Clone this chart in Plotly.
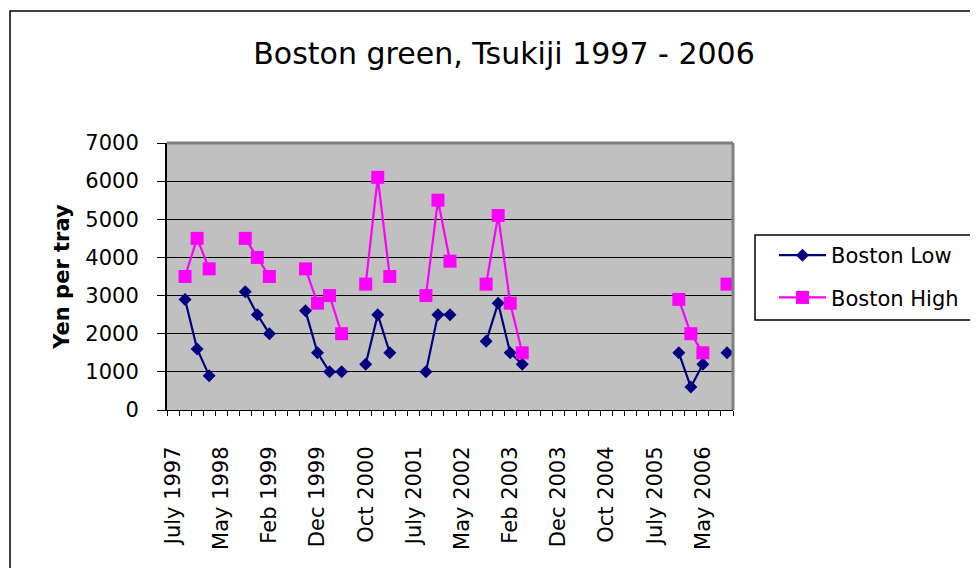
import plotly.graph_objects as go

# ---- data ----
categories = [
    "July 1997", "Sep 1997", "Dec 1997", "Feb 1998",
    "May 1998", "Jul 1998", "Sep 1998", "Nov 1998",
    "Feb 1999", "Apr 1999", "Jul 1999", "Sep 1999",
    "Dec 1999", "Feb 2000", "May 2000", "Jul 2000",
    "Oct 2000", "Dec 2000", "Mar 2001", "May 2001",
    "July 2001", "Oct 2001", "Dec 2001", "Mar 2002",
    "May 2002", "Aug 2002", "Oct 2002", "Dec 2002",
    "Feb 2003", "May 2003", "Jul 2003", "Oct 2003",
    "Dec 2003", "Mar 2004", "May 2004", "Aug 2004",
    "Oct 2004", "Dec 2004", "Mar 2005", "May 2005",
    "July 2005", "Oct 2005", "Dec 2005", "Mar 2006",
    "May 2006", "Jul 2006", "Oct 2006",
]
tick_labels = ["July 1997", "May 1998", "Feb 1999", "Dec 1999", "Oct 2000",
               "July 2001", "May 2002", "Feb 2003", "Dec 2003", "Oct 2004",
               "July 2005", "May 2006"]

N = None
boston_low = [
    N, 2900, 1600, 900,
    N, N, 3100, 2500,
    2000, N, N, 2600,
    1500, 1000, 1000, N,
    1200, 2500, 1500, N,
    N, 1000, 2500, 2500,
    N, N, 1800, 2800,
    1500, 1200, N, N,
    N, N, N, N,
    N, N, N, N,
    N, N, 1500, 600,
    1200, N, 1500,
]
boston_high = [
    N, 3500, 4500, 3700,
    N, N, 4500, 4000,
    3500, N, N, 3700,
    2800, 3000, 2000, N,
    3300, 6100, 3500, N,
    N, 3000, 5500, 3900,
    N, N, 3300, 5100,
    2800, 1500, N, N,
    N, N, N, N,
    N, N, N, N,
    N, N, 2900, 2000,
    1500, N, 3300,
]
y_ticks = [0, 1000, 2000, 3000, 4000, 5000, 6000, 7000]

# ---- layout geometry (screen pixels; page body has an 8px margin) ----
OFF = 8
SW, SH = 978, 568
W, H = SW - OFF, SH - OFF
PL, PT, PR, PB = 167, 143, 733, 410


def px(x):
    return (x - PL) / (PR - PL)


def py(y):
    return (PB - y) / (PB - PT)


FONT = "DejaVu Sans, Liberation Sans, Arial, sans-serif"

fig = go.Figure()
fig.add_trace(go.Scatter(
    x=categories, y=boston_low, name="Boston Low", mode="lines+markers",
    connectgaps=False, legendgroup="low",
    line=dict(color="#000080", width=2.2),
    marker=dict(symbol="diamond", size=10, color="#000080"),
))
fig.add_trace(go.Scatter(
    x=categories, y=boston_high, name="Boston High", mode="lines+markers",
    connectgaps=False, legendgroup="high",
    line=dict(color="#FF00FF", width=2.2),
    marker=dict(symbol="square", size=13, color="#FF00FF"),
))

fig.update_layout(
    width=W, height=H,
    margin=dict(l=PL - OFF, t=PT - OFF, r=SW - PR, b=SH - PB, pad=0),
    paper_bgcolor="white",
    plot_bgcolor="#C0C0C0",
    font=dict(family=FONT, size=21, color="black"),
    title=dict(text="Boston green, Tsukiji 1997 - 2006",
               x=(504 - OFF) / W, xref="container", xanchor="center",
               y=1 - (53 - OFF) / H, yref="container", yanchor="middle",
               font=dict(family=FONT, size=30, color="black")),
    showlegend=True,
    legend=dict(x=px(774), xanchor="left", y=py(235), yanchor="top",
                bgcolor="rgba(0,0,0,0)", borderwidth=0,
                traceorder="grouped", tracegroupgap=12, itemwidth=47,
                font=dict(family=FONT, size=21, color="black")),
    xaxis=dict(
        type="category", categoryorder="array", categoryarray=categories,
        range=[-0.5, len(categories) - 0.5],
        tickmode="array", tickvals=categories,
        ticktext=[c if c in tick_labels else "" for c in categories],
        tickson="boundaries", ticks="outside", ticklen=5, tickwidth=1,
        tickcolor="black", tickangle=-90, ticklabelstandoff=27,
        showline=True, linecolor="black", linewidth=1,
        showgrid=False, zeroline=False,
        tickfont=dict(family=FONT, size=21),
    ),
    yaxis=dict(
        range=[0, 7000], tickmode="array", tickvals=y_ticks,
        ticks="outside", ticklen=8, tickwidth=1, tickcolor="black",
        ticklabelstandoff=14,
        showline=True, linecolor="black", linewidth=2,
        showgrid=True, gridcolor="black", gridwidth=1,
        zeroline=False,
        tickfont=dict(family=FONT, size=21),
        title=dict(text="<b>Yen per tray</b>", standoff=10,
                   font=dict(family=FONT, size=21)),
    ),
    shapes=[
        # outer chart frame
        dict(type="rect", xref="paper", yref="paper",
             x0=px(10), x1=px(1000), y0=py(600), y1=py(11),
             line=dict(color="black", width=1.5), fillcolor="rgba(0,0,0,0)",
             layer="below"),
        # plot area top and right border
        dict(type="line", xref="paper", yref="paper",
             x0=0, x1=1, y0=1, y1=1, line=dict(color="#808080", width=3),
             layer="above"),
        dict(type="line", xref="paper", yref="paper",
             x0=1, x1=1, y0=0, y1=1, line=dict(color="#808080", width=3),
             layer="above"),
        # legend box
        dict(type="rect", xref="paper", yref="paper",
             x0=px(755), x1=px(977), y0=py(320), y1=py(235),
             line=dict(color="black", width=1.5), fillcolor="rgba(0,0,0,0)",
             layer="above"),
    ],
)

fig.write_html("out.html")
